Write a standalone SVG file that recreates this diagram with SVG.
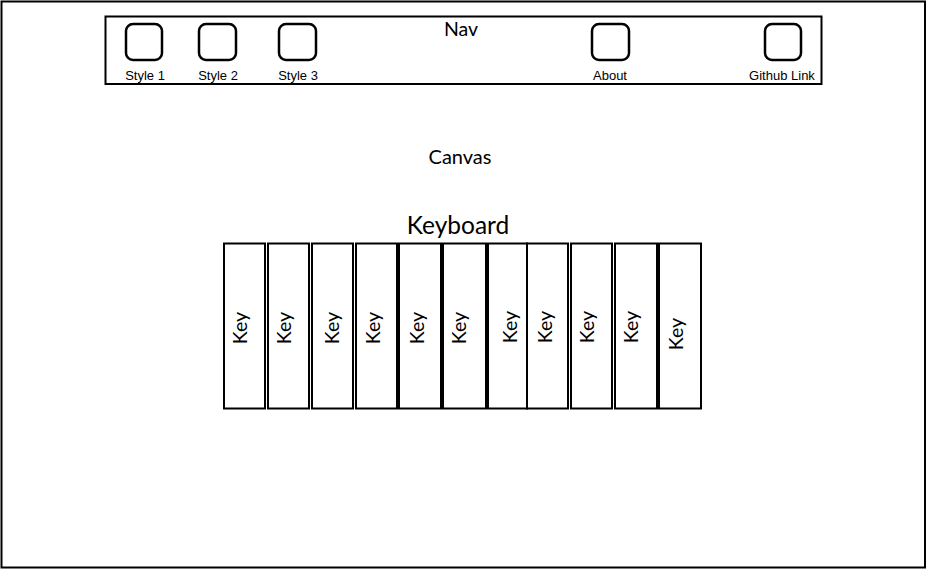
<svg xmlns="http://www.w3.org/2000/svg" width="927" height="570" viewBox="0 0 927 570">
<style>
.frame{fill:#fff;stroke:#000;stroke-width:2}
.btn{fill:#fff;stroke:#000;stroke-width:2.5}
.key{fill:#fff;stroke:#000;stroke-width:2}
.lbl{font-family:"Liberation Sans",Arial,sans-serif;font-size:13px;fill:#000;text-anchor:middle}
.t{font-family:Lato,"Open Sans",sans-serif;fill:#000;text-anchor:middle}
.k{font-family:Lato,"Open Sans",sans-serif;font-size:19.5px;fill:#000;text-anchor:middle}
</style>
<rect width="927" height="570" fill="#fff"/>
<g id="canvas"><rect class="frame" x="1.5" y="1.5" width="923.5" height="566"/>
<text class="t" x="460" y="164" font-size="20">Canvas</text></g>
<g id="nav"><rect class="frame" x="105.5" y="16.5" width="716" height="67.5"/>
<text class="t" x="461" y="36" font-size="19.5">Nav</text></g>
<g id="style1"><rect class="btn" x="126" y="24" width="36" height="36" rx="7"/><text class="lbl" x="145" y="79.5">Style 1</text></g>
<g id="style2"><rect class="btn" x="199" y="24" width="37" height="36" rx="7"/><text class="lbl" x="218" y="79.5">Style 2</text></g>
<g id="style3"><rect class="btn" x="279" y="24" width="37" height="36" rx="7"/><text class="lbl" x="298" y="79.5">Style 3</text></g>
<g id="about"><rect class="btn" x="592" y="24" width="37" height="36" rx="7"/><text class="lbl" x="610" y="79.5">About</text></g>
<g id="github"><rect class="btn" x="765" y="24" width="36" height="36" rx="7"/><text class="lbl" x="782" y="79.5">Github Link</text></g>
<g id="keyboard"><text class="t" x="458" y="234" font-size="24.5">Keyboard</text></g>
<g id="key1"><rect class="key" x="224" y="243.5" width="41" height="165"/><text class="k" transform="translate(247,328) rotate(-90)">Key</text></g>
<g id="key2"><rect class="key" x="268" y="243.5" width="41" height="165"/><text class="k" transform="translate(291,328) rotate(-90)">Key</text></g>
<g id="key3"><rect class="key" x="312" y="243.5" width="41" height="165"/><text class="k" transform="translate(339,328) rotate(-90)">Key</text></g>
<g id="key4"><rect class="key" x="356" y="243.5" width="41" height="165"/><text class="k" transform="translate(380,328) rotate(-90)">Key</text></g>
<g id="key5"><rect class="key" x="399" y="243.5" width="42" height="165"/><text class="k" transform="translate(424,328) rotate(-90)">Key</text></g>
<g id="key6"><rect class="key" x="443" y="243.5" width="43" height="165"/><text class="k" transform="translate(466,328) rotate(-90)">Key</text></g>
<g id="key7"><rect class="key" x="488" y="243.5" width="39" height="165"/><text class="k" transform="translate(517,327) rotate(-90)">Key</text></g>
<g id="key8"><rect class="key" x="527" y="243.5" width="41" height="165"/><text class="k" transform="translate(552,327) rotate(-90)">Key</text></g>
<g id="key9"><rect class="key" x="571" y="243.5" width="41" height="165"/><text class="k" transform="translate(594,327) rotate(-90)">Key</text></g>
<g id="key10"><rect class="key" x="615" y="243.5" width="42" height="165"/><text class="k" transform="translate(638,327) rotate(-90)">Key</text></g>
<g id="key11"><rect class="key" x="659" y="243.5" width="42" height="165"/><text class="k" transform="translate(683,334) rotate(-90)">Key</text></g>
<g id="connectors"></g>
</svg>
